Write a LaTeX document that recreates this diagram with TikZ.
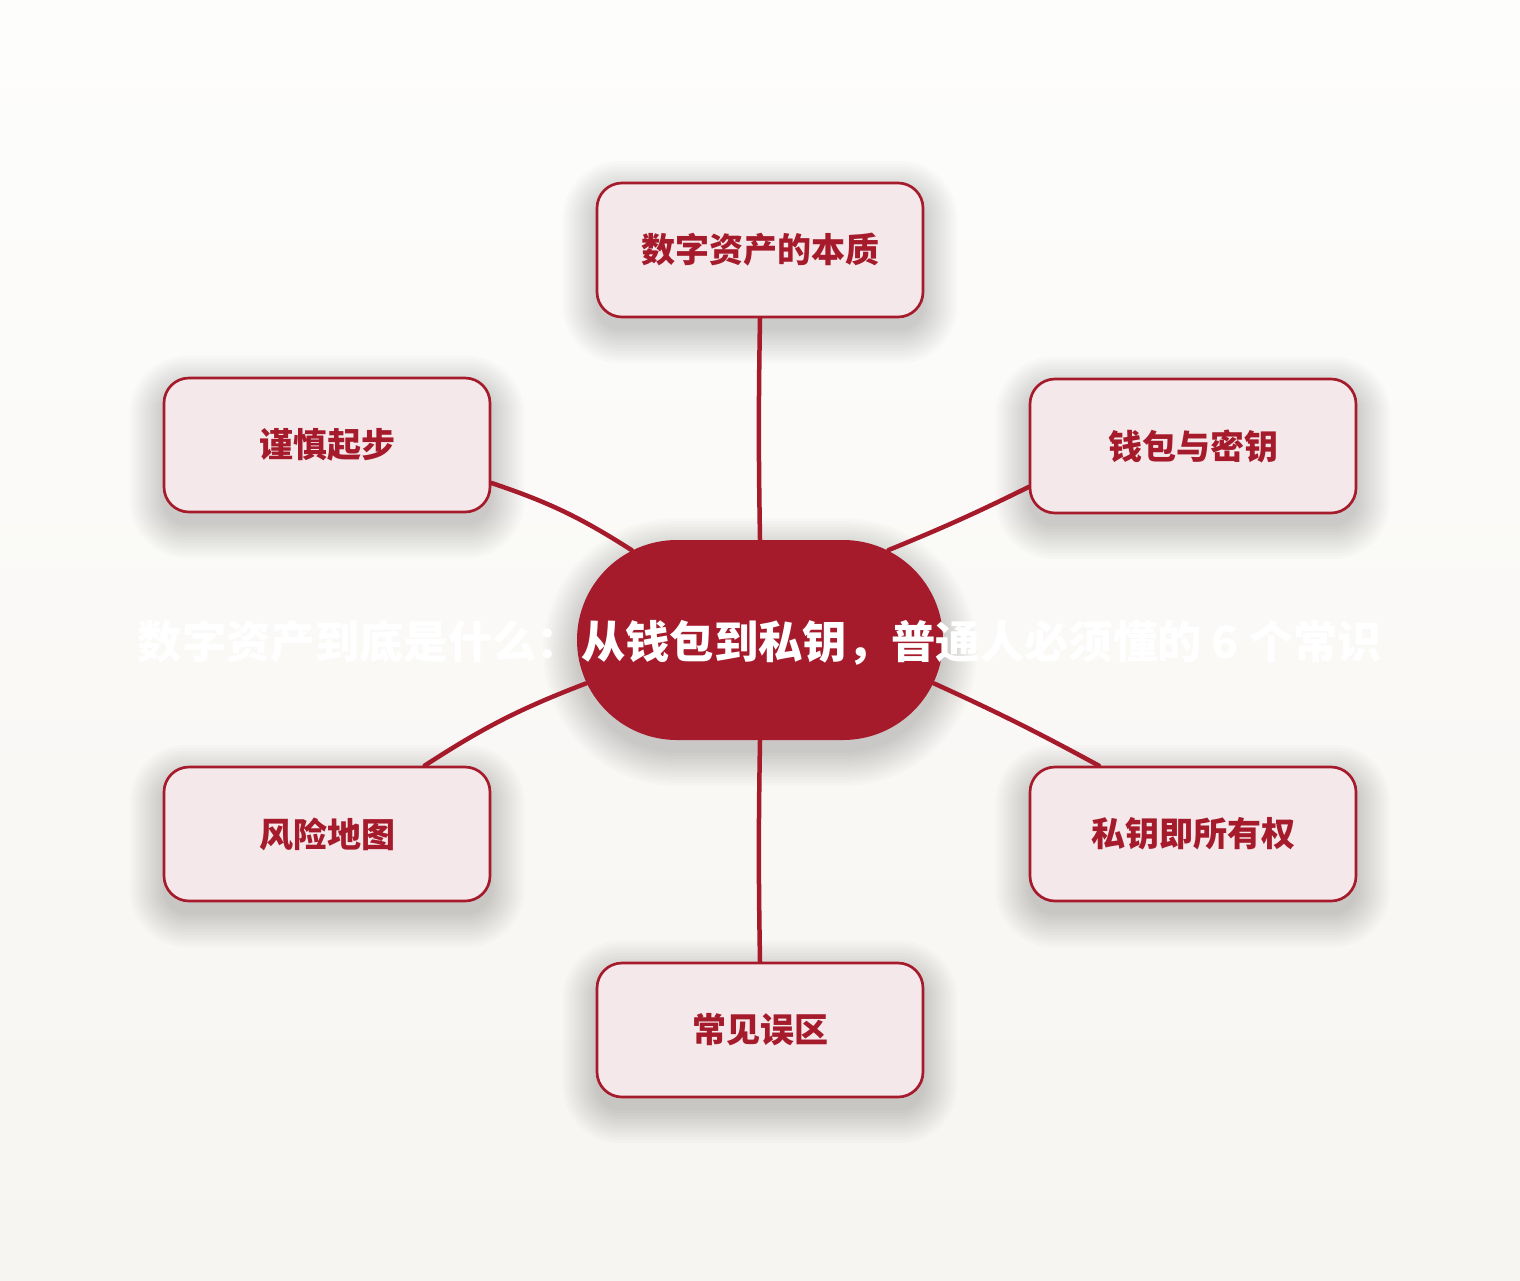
\documentclass[tikz,border=0pt]{standalone}
\usepackage{fontspec}
\setmainfont{Noto Sans CJK SC}
\usepackage{tikz}
\usetikzlibrary{shapes}
\usetikzlibrary{shapes.misc}
\definecolor{mapred}{HTML}{A51B2B}
\definecolor{topicfill}{HTML}{F4E8EA}
\definecolor{bgtop}{HTML}{FDFDFC}
\definecolor{bgbottom}{HTML}{F7F5F1}
\pgfdeclarelayer{bg}
\pgfdeclarelayer{shade}
\pgfsetlayers{bg,shade,main}
\tikzset{topic/.style={draw=mapred, line width=0.8pt, fill=topicfill, rounded corners=7.5pt, minimum width=97.8pt, minimum height=40.2pt, inner sep=0pt, text=mapred, font=\fontsize{10.2pt}{12pt}\selectfont\bfseries}}
\tikzset{hub/.style={rounded rectangle, fill=mapred, minimum width=109.8pt, minimum height=60pt, inner sep=0pt}}
\tikzset{link/.style={draw=mapred, line width=1.35pt, line cap=round}}
% soft shadow under a node: name, corner radius (px)
\newcommand{\castshade}[2]{%
 \path (#1.west |- #1.north) coordinate (#1nw) (#1.east |- #1.south) coordinate (#1se);
 \begin{pgfonlayer}{shade}
 \foreach \k in {0,...,11}{
  \pgfmathsetmacro{\shaderad}{(#2+3*\k)*0.3}
  \fill[black, opacity=0.017, rounded corners=\shaderad pt] ([shift={(-3*\k,-3*\k+12)}]#1nw) rectangle ([shift={(3*\k,3*\k+12)}]#1se);
 }
 \end{pgfonlayer}}

\begin{document}
\begin{tikzpicture}[x=0.3pt, y=-0.3pt]
\begin{pgfonlayer}{bg}
\fill[top color=bgtop, bottom color=bgbottom] (0, 0) rectangle (1520, 1280);
\end{pgfonlayer}
\useasboundingbox (0, 0) rectangle (1520, 1280);
 \node[hub] (hub) at (760, 640) {};
 \node[topic] (essence) at (760, 250) {\raisebox{-1.8pt}{数字资产的本质}};
 \node[topic] (careful) at (327, 445) {\raisebox{-1.8pt}{谨慎起步}};
 \node[topic] (wallet) at (1193, 446) {\raisebox{-1.8pt}{钱包与密钥}};
 \node[topic] (risk) at (327, 834) {\raisebox{-1.8pt}{风险地图}};
 \node[topic] (owner) at (1193, 834) {\raisebox{-1.8pt}{私钥即所有权}};
 \node[topic] (myth) at (760, 1030) {\raisebox{-1.8pt}{常见误区}};
 \castshade{hub}{100}
 \castshade{essence}{25}
 \castshade{careful}{25}
 \castshade{wallet}{25}
 \castshade{risk}{25}
 \castshade{owner}{25}
 \castshade{myth}{25}
 \draw[link] (hub.north) to [bend left = 1] (essence.south);
 \draw[link] (careful.-13.5) to [bend left = 7] (hub.145);
 \draw[link] (hub.35) to [bend right = 2] (wallet.-166);
 \draw[link] (hub.194.4) to [bend right = 6] (risk.35.8);
 \draw[link] (hub.-14.7) to [bend left = 2] (owner.144.2);
 \draw[link] (hub.south) to [bend right = 1] (myth.north);
 \node[text=white, font=\fontsize{13.3pt}{16pt}\selectfont\bfseries] (title) at (760, 643) {数字资产到底是什么：从钱包到私钥，普通人必须懂的 6 个常识};
\end{tikzpicture}
\end{document}
